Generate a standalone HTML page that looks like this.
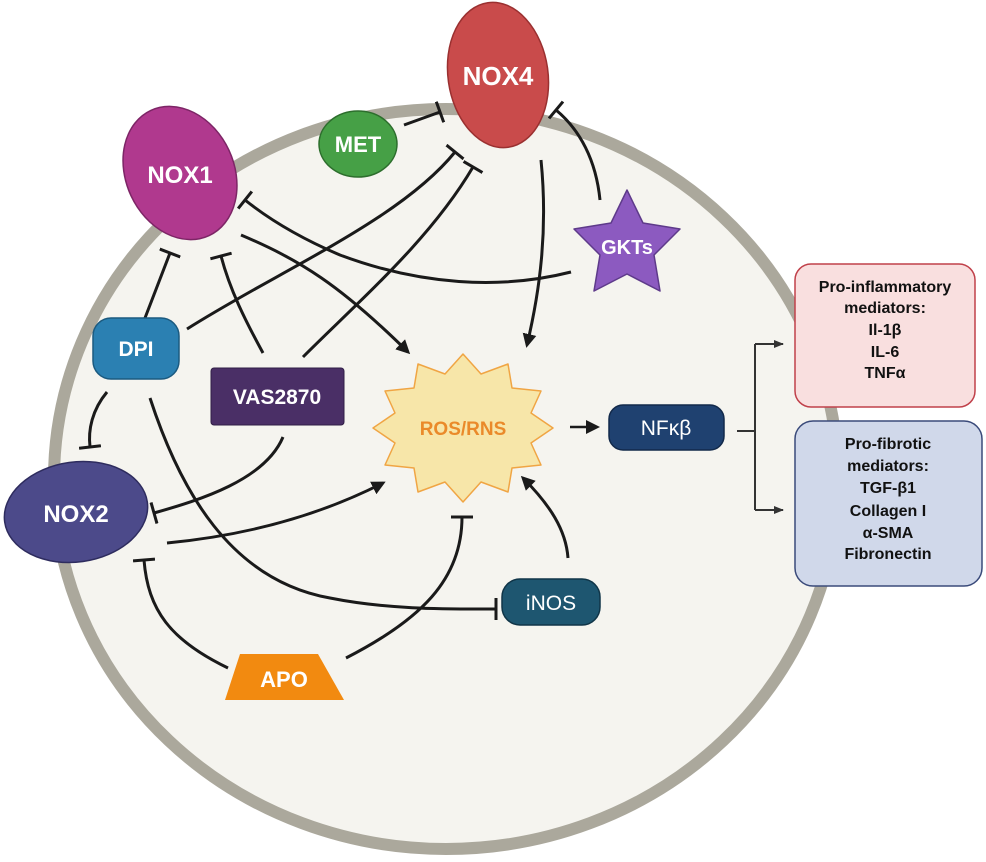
<!DOCTYPE html>
<html><head><meta charset="utf-8"><style>
html,body{margin:0;padding:0;background:#fff;}
svg{display:block;}
text{font-family:"Liberation Sans",sans-serif;}
</style></head><body>
<svg width="986" height="862" viewBox="0 0 986 862" xmlns="http://www.w3.org/2000/svg">
<defs>
<marker id="ar" markerWidth="14" markerHeight="14" refX="11" refY="7" orient="auto" markerUnits="userSpaceOnUse"><path d="M0,0 L14,7 L0,14 z" fill="#1a1a1a"/></marker>
<marker id="as" markerWidth="10" markerHeight="8" refX="9" refY="4" orient="auto" markerUnits="userSpaceOnUse"><path d="M0,0 L10,4 L0,8 z" fill="#333"/></marker>
<marker id="tb" markerWidth="4" markerHeight="22" refX="2" refY="11" orient="auto" markerUnits="userSpaceOnUse"><rect x="0.5" y="0" width="3" height="22" fill="#1a1a1a"/></marker>
</defs>
<!-- cell -->
<ellipse cx="446" cy="479" rx="392" ry="370" fill="#f5f4ef" stroke="#aba89c" stroke-width="12"/>

<!-- connectors -->
<g fill="none" stroke="#1a1a1a" stroke-width="3">
<path d="M404,125 L440,112" marker-end="url(#tb)"/>
<path d="M187,329 C280,270 400,220 455,152" marker-end="url(#tb)"/>
<path d="M303,357 C360,300 430,240 473,167" marker-end="url(#tb)"/>
<path d="M541,160 C548,230 540,290 527,345" marker-end="url(#ar)"/>
<path d="M600,200 C596,160 580,130 556,110" marker-end="url(#tb)"/>
<path d="M571,272 C500,290 420,285 340,255 C300,238 270,220 245,200" marker-end="url(#tb)"/>
<path d="M241,235 C300,260 340,285 408,352" marker-end="url(#ar)"/>
<path d="M145,318 L170,253" marker-end="url(#tb)"/>
<path d="M263,353 C245,320 230,290 221,256" marker-end="url(#tb)"/>
<path d="M107,392 C92,410 88,430 90,447" marker-end="url(#tb)"/>
<path d="M150,398 C180,490 230,580 330,598 C390,610 450,609 496,609" marker-end="url(#tb)"/>
<path d="M283,437 C265,480 200,500 154,513" marker-end="url(#tb)"/>
<path d="M167,543 C250,535 320,515 383,483" marker-end="url(#ar)"/>
<path d="M228,668 C170,640 148,610 144,560" marker-end="url(#tb)"/>
<path d="M346,658 C420,620 462,580 462,517" marker-end="url(#tb)"/>
<path d="M568,558 C566,530 550,505 523,478" marker-end="url(#ar)"/>
<path d="M570,427 L597,427" marker-end="url(#ar)" stroke-width="2.5"/>
</g>
<g fill="none" stroke="#333" stroke-width="2">
<path d="M737,431 L755,431"/>
<path d="M755,344 L755,510"/>
<path d="M755,344 L783,344" marker-end="url(#as)"/>
<path d="M755,510 L783,510" marker-end="url(#as)"/>
</g>

<!-- NOX4 -->
<ellipse cx="498" cy="75" rx="50" ry="73" transform="rotate(-8 498 75)" fill="#c94b4b" stroke="#9a3030" stroke-width="1.5"/>
<text x="498" y="85" text-anchor="middle" font-size="26" font-weight="bold" fill="#fff">NOX4</text>
<!-- NOX1 -->
<ellipse cx="180" cy="173" rx="54" ry="69" transform="rotate(-25 180 173)" fill="#b0398e" stroke="#7d2566" stroke-width="1.5"/>
<text x="180" y="183" text-anchor="middle" font-size="24" font-weight="bold" fill="#fff">NOX1</text>
<!-- MET -->
<ellipse cx="358" cy="144" rx="39" ry="33" fill="#46a046" stroke="#2d6e2d" stroke-width="1.5"/>
<text x="358" y="152" text-anchor="middle" font-size="22" font-weight="bold" fill="#fff">MET</text>
<!-- GKTs -->
<polygon points="627,190 643,223 680,229 654,255 660,291 627,274 594,291 600,255 574,229 611,223" fill="#8c5ac0" stroke="#5e3a8a" stroke-width="1.5" stroke-linejoin="round"/>
<text x="627" y="254" text-anchor="middle" font-size="20" font-weight="bold" fill="#fff">GKTs</text>
<!-- DPI -->
<rect x="93" y="318" width="86" height="61" rx="18" fill="#2b80b2" stroke="#1b5a80" stroke-width="1.5"/>
<text x="136" y="356" text-anchor="middle" font-size="21" font-weight="bold" fill="#fff">DPI</text>
<!-- VAS2870 -->
<rect x="211" y="368" width="133" height="57" rx="3" fill="#4a2f66" stroke="#301e45" stroke-width="1"/>
<text x="277" y="404" text-anchor="middle" font-size="21" font-weight="bold" fill="#fff">VAS2870</text>
<!-- ROS -->
<polygon points="463,354 481,374 508,364 512,388 541,391 531,413 553,428 531,443 541,465 512,468 508,492 481,482 463,502 445,482 418,492 414,468 385,465 395,443 373,428 395,413 385,391 414,388 418,364 445,374" fill="#f7e6a9" stroke="#f0a544" stroke-width="1.5" stroke-linejoin="round"/>
<text x="463" y="435" text-anchor="middle" font-size="19" font-weight="bold" fill="#ea8a2a">ROS/RNS</text>
<!-- NFkB -->
<rect x="609" y="405" width="115" height="45" rx="14" fill="#1f4170" stroke="#12294a" stroke-width="1.5"/>
<text x="666" y="435" text-anchor="middle" font-size="21" fill="#fff">NFκβ</text>
<!-- NOX2 -->
<ellipse cx="76" cy="512" rx="72" ry="50" transform="rotate(-8 76 512)" fill="#4c4a8a" stroke="#2e2c5e" stroke-width="1.5"/>
<text x="76" y="522" text-anchor="middle" font-size="24" font-weight="bold" fill="#fff">NOX2</text>
<!-- iNOS -->
<rect x="502" y="579" width="98" height="46" rx="18" fill="#1e5670" stroke="#103548" stroke-width="1.5"/>
<text x="551" y="610" text-anchor="middle" font-size="21" fill="#fff">iNOS</text>
<!-- APO -->
<polygon points="240,654 318,654 344,700 225,700" fill="#f28a10"/>
<text x="284" y="687" text-anchor="middle" font-size="22" font-weight="bold" fill="#fff">APO</text>

<!-- boxes -->
<rect x="795" y="264" width="180" height="143" rx="16" fill="#f9dfdf" stroke="#c0404a" stroke-width="1.5"/>
<g font-size="16" font-weight="bold" fill="#111" text-anchor="middle">
<text x="885" y="292">Pro-inflammatory</text>
<text x="885" y="313">mediators:</text>
<text x="885" y="335">Il-1β</text>
<text x="885" y="357">IL-6</text>
<text x="885" y="378">TNFα</text>
</g>
<rect x="795" y="421" width="187" height="165" rx="18" fill="#d0d8ea" stroke="#3a4a7a" stroke-width="1.5"/>
<g font-size="16" font-weight="bold" fill="#111" text-anchor="middle">
<text x="888" y="449">Pro-fibrotic</text>
<text x="888" y="471">mediators:</text>
<text x="888" y="493">TGF-β1</text>
<text x="888" y="516">Collagen I</text>
<text x="888" y="538">α-SMA</text>
<text x="888" y="559">Fibronectin</text>
</g>
</svg>
</body></html>
